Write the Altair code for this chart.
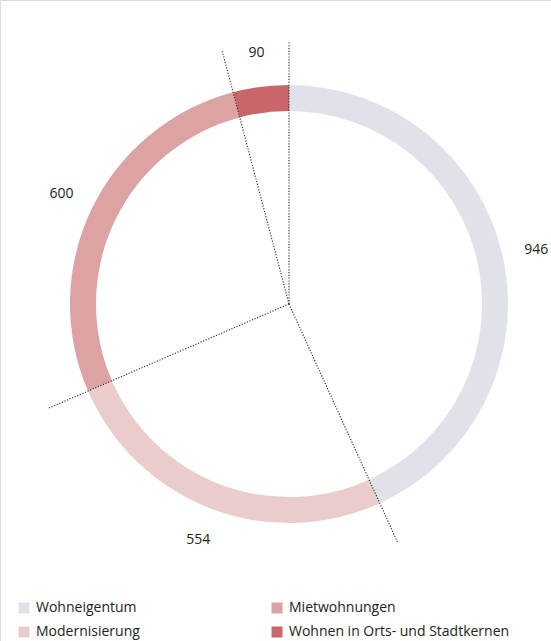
import altair as alt
import pandas as pd

# Funding volume per programme area
categories = [
    "Wohneigentum",
    "Modernisierung",
    "Mietwohnungen",
    "Wohnen in Orts- und Stadtkernen",
]
values = [946, 554, 600, 90]
colors = ["#dfe3e9", "#eacdca", "#dca3a2", "#c9666b"]

df = pd.DataFrame({
    "Bereich": categories,
    "Wert": values,
    "Reihenfolge": list(range(len(categories))),
})

W, H = 551, 641
CX, CY = 289, 304          # ring centre in pixels
R_OUT, R_IN = 219, 193     # ring radii
R_LINE, R_LABEL = 262, 253 # divider length and label distance

xscale = alt.Scale(domain=[-CX, W - CX], nice=False, zero=False)
yscale = alt.Scale(domain=[-(H - CY), CY], nice=False, zero=False)

base = alt.Chart(df).transform_joinaggregate(
    Gesamt="sum(Wert)"
).transform_window(
    Ende="sum(Wert)", sort=[alt.SortField("Reihenfolge")], frame=[None, 0]
).transform_calculate(
    Start="datum.Ende - datum.Wert",
    a0="2 * PI * datum.Start / datum.Gesamt",
    am="PI * (datum.Start + datum.Ende) / datum.Gesamt",
    cx="0",
    cy="0",
    ex=f"{R_LINE} * sin(datum.a0)",
    ey=f"{R_LINE} * cos(datum.a0)",
    lx=f"{R_LABEL} * sin(datum.am)",
    ly=f"{R_LABEL} * cos(datum.am)",
)

ring = alt.Chart(df).mark_arc(
    outerRadius=R_OUT, innerRadius=R_IN, stroke=None
).encode(
    theta=alt.Theta("Wert:Q", stack=True),
    order=alt.Order("Reihenfolge:Q", sort="ascending"),
    color=alt.Color(
        "Bereich:N",
        scale=alt.Scale(domain=categories, range=colors),
        legend=alt.Legend(
            title=None,
            orient="none",
            legendX=17,
            legendY=601,
            columns=2,
            columnPadding=130,
            rowPadding=10,
            symbolType="square",
            symbolSize=121,
            symbolStrokeWidth=0,
            labelFont="Open Sans",
            labelFontSize=14,
            labelColor="#222222",
            labelOffset=5,
            labelLimit=400,
        ),
    ),
    x=alt.XDatum(0, scale=xscale, axis=None),
    y=alt.YDatum(0, scale=yscale, axis=None),
)

dividers = base.mark_rule(
    color="#2a2a2a", strokeWidth=1.1, strokeDash=[1.2, 1.6]
).encode(
    x=alt.X("cx:Q", scale=xscale, axis=None),
    y=alt.Y("cy:Q", scale=yscale, axis=None),
    x2="ex:Q",
    y2="ey:Q",
)

labels = base.mark_text(
    font="Open Sans", fontSize=14, color="#222222",
    align="center", baseline="middle",
).encode(
    x=alt.X("lx:Q", scale=xscale, axis=None),
    y=alt.Y("ly:Q", scale=yscale, axis=None),
    text=alt.Text("Wert:Q", format="d"),
)

chart = alt.layer(ring, dividers, labels).properties(
    width=W,
    height=H,
    padding=0,
    autosize=alt.AutoSizeParams(type="none"),
).configure_view(stroke=None).configure(background="#ffffff")

chart.save("out.html", embed_options={"renderer": "svg", "actions": False})
